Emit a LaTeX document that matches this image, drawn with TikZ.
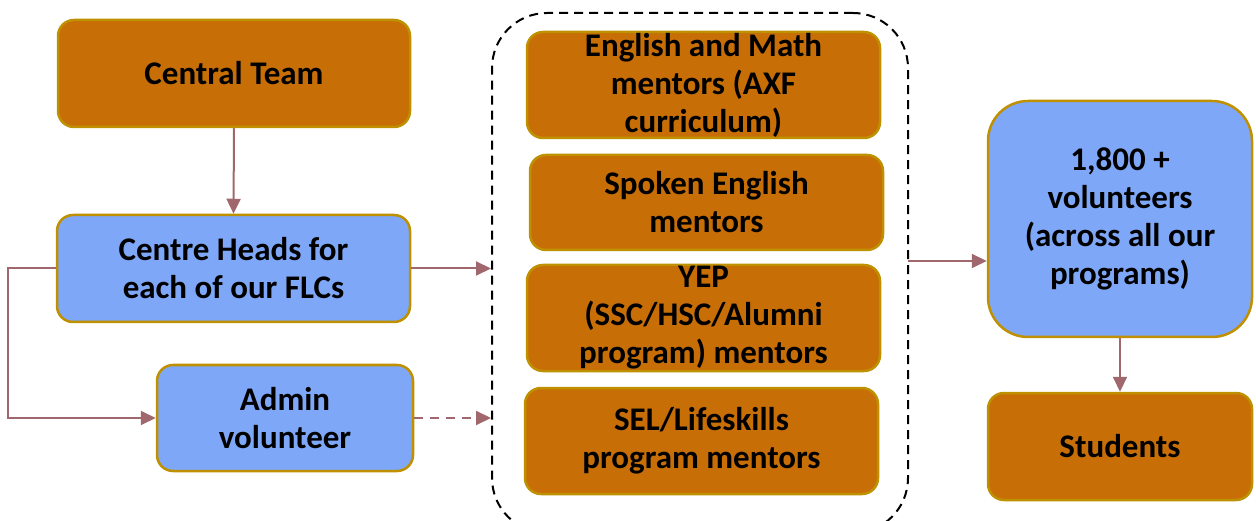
\documentclass[tikz,border=0pt]{standalone}
\usepackage{fontspec}
\setmainfont{Carlito}
\usetikzlibrary{arrows.meta,calc}
\definecolor{org}{RGB}{199,110,6}
\definecolor{blu}{RGB}{127,167,247}
\definecolor{gold}{RGB}{191,144,0}
\definecolor{arr}{RGB}{160,104,108}
\tikzset{
  box/.style={draw=gold, line width=2.5pt, rounded corners=16pt, inner sep=0pt, align=center,
    font=\fontsize{33}{38}\selectfont\bfseries},
  obox/.style={box, fill=org},
  bbox/.style={box, fill=blu},
  conn/.style={draw=arr, line width=2pt, -{Triangle[length=15pt,width=14pt]}},
}
\begin{document}
\begin{tikzpicture}[x=1pt,y=-1pt]
\useasboundingbox (0,0) rectangle (1256,521);
\node[obox, minimum width=352pt, minimum height=107pt] (central) at (234,73.5) {Central Team};
\node[bbox, minimum width=353pt, minimum height=107pt] (heads) at (233.5,268.5) {Centre Heads for\\each of our FLCs};
\node[bbox, minimum width=256pt, minimum height=106pt] (admin) at (285,418) {Admin\\volunteer};
\node[draw=black, line width=2pt, dash pattern=on 9pt off 6pt, rounded corners=55pt, minimum width=416pt, minimum height=520pt, inner sep=0pt] (cont) at (700,273) {};
\node[obox, minimum width=353pt, minimum height=106pt] (m1) at (703.5,85) {English and Math\\mentors (AXF\\curriculum)};
\node[obox, minimum width=353pt, minimum height=95pt] (m2) at (706.5,202.5) {Spoken English\\mentors};
\node[obox, minimum width=353pt, minimum height=106pt] (m3) at (703.5,318) {YEP\\(SSC/HSC/Alumni\\program) mentors};
\node[obox, minimum width=353pt, minimum height=106pt] (m4) at (701.5,441) {SEL/Lifeskills\\program mentors};
\node[bbox, rounded corners=40pt, minimum width=264pt, minimum height=236pt] (vol) at (1120,219) {1,800 +\\volunteers\\(across all our\\programs)};
\node[obox, minimum width=264pt, minimum height=107pt] (stud) at (1120,446.5) {Students};
\coordinate (c1) at (908,261);
\draw[conn] (central.south) -- (heads.north);
\draw[conn] (heads.east) -- (heads.east -| cont.west);
\draw[conn, rounded corners=0pt] (heads.west) -- ++(-48,0) |- (admin.west);
\draw[conn, dash pattern=on 9pt off 7pt] (admin.east) -- (admin.east -| cont.west);
\draw[conn] (c1) -- (c1 -| vol.west);
\draw[conn] (vol.south) -- (stud.north);
\end{tikzpicture}
\end{document}
